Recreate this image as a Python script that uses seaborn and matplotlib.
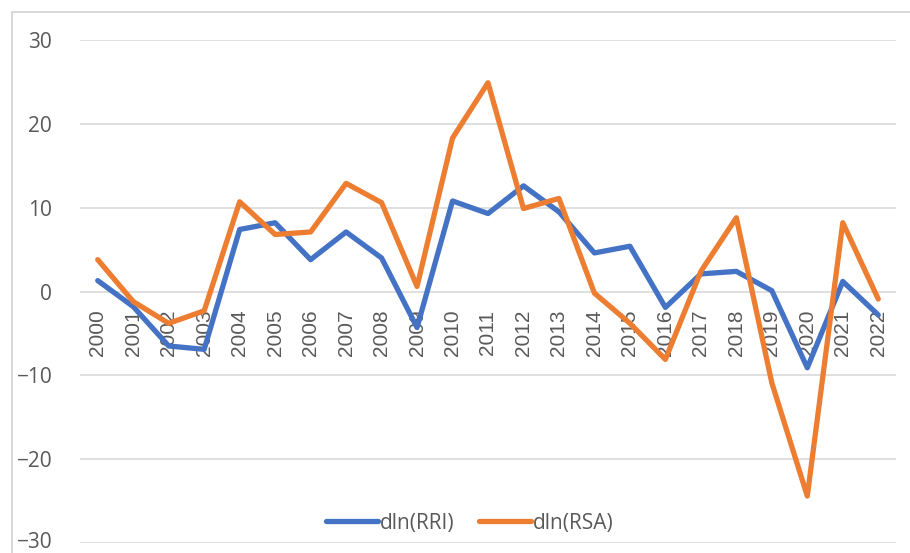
import pandas as pd
import matplotlib.pyplot as plt
import seaborn as sns
from matplotlib.patches import Rectangle
from matplotlib.transforms import ScaledTranslation

# ================================================
# Data
# ================================================
years = list(range(2000, 2023))
rri = [1.3, -1.8, -6.5, -6.9, 7.4, 8.2, 3.8, 7.1, 4.0, -4.3, 10.8,
       9.3, 12.6, 9.5, 4.6, 5.4, -1.9, 2.1, 2.4, 0.1, -9.1, 1.2, -2.8]
rsa = [3.8, -1.2, -3.8, -2.3, 10.7, 6.8, 7.1, 12.9, 10.6, 0.6, 18.3,
       24.9, 9.9, 11.1, -0.2, -3.8, -8.1, 2.4, 8.8, -10.9, -24.4, 8.2, -0.9]
series_names = ["dln(RRI)", "dln(RSA)"]
y_ticks = [-30, -20, -10, 0, 10, 20, 30]

df = pd.DataFrame({"Year": years, series_names[0]: rri, series_names[1]: rsa})
long_df = df.melt(id_vars="Year", var_name="Series", value_name="Value")

# ================================================
# Plot
# ================================================
sns.set_style("white")
plt.rcParams["font.family"] = ["Open Sans", "DejaVu Sans"]

fig = plt.figure(figsize=(9.1, 5.53), dpi=100)
ax = fig.add_axes([80 / 910, 10 / 553, 816 / 910, 503 / 553])

# chart frame (light grey border at top / left)
fig.patches.append(Rectangle((12 / 910, -0.1), 1.2, 1 - 12 / 553 + 0.1,
                             transform=fig.transFigure, fill=False,
                             edgecolor="#D9D9D9", linewidth=1.5))

sns.lineplot(data=long_df, x="Year", y="Value", hue="Series",
             palette=["#4472C4", "#ED7D31"], linewidth=3.8, ax=ax,
             legend=True)
for ln in ax.get_lines():
    ln.set_solid_joinstyle("round")
    ln.set_solid_capstyle("round")

# x axis sits on the zero line (must be set before tick labels)
for s in ax.spines.values():
    s.set_visible(False)
ax.spines["bottom"].set_position(("data", 0))

ax.set_ylim(-30, 30)
ax.set_xlim(1999.5, 2022.5)
ax.set_yticks(y_ticks)
ax.set_yticklabels(["\u221230", "\u221220", "\u221210", "0", "10", "20", "30"])
ax.set_xticks(years)
ax.set_xticklabels([str(y) for y in years], rotation=90, va="top",
                   family=["Liberation Sans", "DejaVu Sans"])
ax.yaxis.grid(True, color="#D9D9D9", linewidth=1.2)
ax.xaxis.grid(False)
ax.tick_params(axis="x", length=0, pad=13, labelsize=15, labelcolor="#595959")
ax.tick_params(axis="y", length=0, pad=20, labelsize=15, labelcolor="#595959")
ax.set_xlabel("")
ax.set_ylabel("")
for lbl in ax.get_yticklabels():
    lbl.set_clip_on(False)
# lowest label sits at the very bottom edge: lift it a touch so it stays whole
low = ax.get_yticklabels()[0]
low.set_transform(low.get_transform() + ScaledTranslation(0, 3 / 100, fig.dpi_scale_trans))

leg = ax.legend(loc="center", bbox_to_anchor=(470 / 910, 1 - 523 / 553),
                bbox_transform=fig.transFigure, ncol=2, frameon=False,
                fontsize=15, handlelength=2.5, handletextpad=0.1,
                columnspacing=1.15)
for t in leg.get_texts():
    t.set_color("#595959")
for h in leg.get_lines():
    h.set_linewidth(3.8)

fig.savefig("out.png", dpi=100)
